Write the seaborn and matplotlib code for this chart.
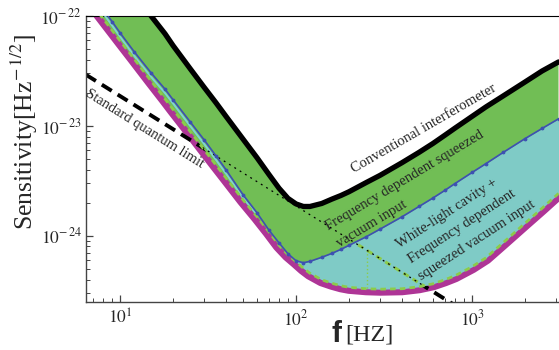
import numpy as np
import matplotlib
matplotlib.use("Agg")
import matplotlib.pyplot as plt
from matplotlib.ticker import FuncFormatter, NullFormatter, FixedLocator
import seaborn as sns

# Frequency grid [Hz] shared by the noise curves
freq = [6.4, 7, 8, 9, 10, 12, 15, 18, 20, 25, 30, 35, 40, 50, 60, 70, 80, 90,
        100, 110, 120, 140, 160, 180, 200, 250, 300, 400, 500, 600, 700, 800,
        1000, 1200, 1500, 2000, 2500, 3100]

# Conventional interferometer sensitivity [Hz^-1/2]
conventional = [6.28e-22, 5.19e-22, 3.89e-22, 3.02e-22, 2.40e-22, 1.62e-22, 1.0e-22,
                6.89e-23, 5.38e-23, 3.32e-23, 2.25e-23, 1.63e-23, 1.22e-23,
                7.57e-24, 5.13e-24, 3.63e-24, 2.71e-24, 2.19e-24, 1.95e-24,
                1.85e-24, 1.85e-24, 1.97e-24, 2.16e-24, 2.33e-24, 2.52e-24,
                3.05e-24, 3.55e-24, 4.63e-24, 5.75e-24, 6.93e-24, 8.22e-24, 9.55e-24,
                1.22e-23, 1.49e-23, 1.87e-23, 2.51e-23, 3.16e-23, 3.82e-23]

# Frequency dependent squeezed vacuum input
fd_squeezed = [1.85e-22, 1.53e-22, 1.15e-22, 8.91e-23, 7.02e-23, 4.75e-23, 3.04e-23,
               2.16e-23, 1.73e-23, 1.09e-23, 7.48e-24, 5.36e-24, 3.99e-24,
               2.36e-24, 1.62e-24, 1.13e-24, 8.63e-25, 6.86e-25, 5.93e-25,
               5.69e-25, 5.86e-25, 6.38e-25, 6.93e-25, 7.54e-25, 8.20e-25,
               9.79e-25, 1.15e-24, 1.49e-24, 1.85e-24, 2.21e-24, 2.59e-24, 2.99e-24,
               3.77e-24, 4.54e-24, 5.73e-24, 7.66e-24, 9.48e-24, 1.16e-23]

# White-light cavity + frequency dependent squeezed vacuum input
white_light = [1.44e-22, 1.25e-22, 9.47e-23, 7.41e-23, 5.95e-23, 4.08e-23, 2.56e-23,
               1.76e-23, 1.41e-23, 8.91e-24, 6.09e-24, 4.42e-24, 3.36e-24,
               2.12e-24, 1.49e-24, 1.09e-24, 8.20e-25, 6.71e-25, 5.81e-25,
               5.07e-25, 4.56e-25, 3.98e-25, 3.70e-25, 3.51e-25, 3.40e-25,
               3.30e-25, 3.27e-25, 3.30e-25, 3.44e-25, 3.66e-25, 3.98e-25, 4.33e-25,
               5.23e-25, 6.31e-25, 8.64e-25, 1.30e-24, 1.78e-24, 2.43e-24]

# Thin trace running between the two squeezed curves at low frequency
edge_freq = [6.4, 7, 8, 9, 10, 12, 15, 18, 20, 25, 30, 35, 40, 50, 60]
edge_vals = [1.70e-22, 1.41e-22, 1.06e-22, 8.2e-23, 6.46e-23, 4.36e-23, 2.79e-23,
             1.99e-23, 1.60e-23, 1.00e-23, 6.87e-24, 4.93e-24, 3.67e-24,
             2.21e-24, 1.55e-24]

# Standard quantum limit
sql_freq = [6.4, 800]
sql_vals = [2.92e-23, 2.33e-25]

# Marker segment from the SQL down to the white-light curve
seg_freq = [252, 252]
seg_vals = [7.4e-25, 3.3e-25]

# Axis decades
x_ticks = [10, 100, 1000]
y_ticks = [1e-24, 1e-23, 1e-22]

GREEN = "#71BE55"
CYAN = "#7FCBC6"
MAGENTA = "#AE3596"
BLUE = "#3D4FB3"
LIGHTGREEN = "#8CCB4A"
CYANLINE = "#7FD3D3"

sns.set_theme(style="ticks")
plt.rcParams["font.family"] = ["Liberation Serif", "DejaVu Serif"]
plt.rcParams["mathtext.fontset"] = "stix"

W, H = 559, 350
fig = plt.figure(figsize=(W / 100, H / 100), dpi=100)
ax = fig.add_axes([86 / W, 48 / H, 473 / W, 286 / H])
ax.set_xscale("log")
ax.set_yscale("log")

f = np.array(freq)

# thick magenta edge under the filled bands
sns.lineplot(x=freq, y=white_light, color=MAGENTA, lw=9.4, ax=ax,
             legend=False, zorder=1.5, sort=False)
# SQL drawn underneath the bands
sns.lineplot(x=sql_freq, y=sql_vals, color="black", lw=2.8,
             linestyle=(0, (3, 1.8)), ax=ax, legend=False, zorder=1.8)

green = ax.fill_between(f, white_light, conventional, color=GREEN, lw=0, zorder=2)
cyan = ax.fill_between(f, white_light, fd_squeezed, where=f >= 100,
                       color=CYAN, lw=0, zorder=3)

# SQL traced through the bands
seg = ax.plot(sql_freq, sql_vals, color=LIGHTGREEN, lw=2.2,
              linestyle=(0, (2, 1.5)), zorder=3.5)[0]
seg.set_clip_path(cyan.get_paths()[0], transform=ax.transData)
dot = ax.plot(sql_freq, sql_vals, color="black", lw=0.9,
              linestyle=(0, (1.5, 3.5)), zorder=4.5)[0]
dot.set_clip_path(green.get_paths()[0], transform=ax.transData)
ax.plot(seg_freq, seg_vals, color=LIGHTGREEN, lw=1.0, linestyle=":", zorder=3.6)

sns.lineplot(x=edge_freq, y=edge_vals, color=CYANLINE, lw=1.4, ax=ax,
             legend=False, zorder=4, sort=False)
sns.lineplot(x=freq, y=white_light, color=LIGHTGREEN, lw=2.0,
             linestyle=(0, (2, 1.5)), ax=ax, legend=False, zorder=4, sort=False)
sns.lineplot(x=freq, y=fd_squeezed, color=BLUE, lw=1.2, marker="o", ms=2.0,
             mec=BLUE, ax=ax, legend=False, zorder=5, sort=False)
sns.lineplot(x=freq, y=conventional, color="black", lw=3.8, ax=ax,
             legend=False, zorder=6, sort=False)

ax.set_xlim(6.4, 3120)
ax.set_ylim(2.5e-25, 1e-22)
ax.set_xlabel("")
ax.set_ylabel("")

ax.spines["right"].set_visible(False)
ax.spines["top"].set_linewidth(0.8)
ax.spines["top"].set_color("black")
for s in ("left", "bottom"):
    ax.spines[s].set_linewidth(1.0)
    ax.spines[s].set_color("#444444")

ax.xaxis.set_major_locator(FixedLocator(x_ticks))
ax.yaxis.set_major_locator(FixedLocator(y_ticks))
ax.tick_params(which="both", direction="in", top=False, right=False,
               color="#444444", labelsize=12.5)
ax.tick_params(which="major", length=5, width=0.9)
ax.tick_params(which="minor", length=3, width=0.7)
ax.tick_params(axis="x", pad=5)
ax.tick_params(axis="y", pad=3)
ax.xaxis.set_major_formatter(FuncFormatter(
    lambda v, p: rf"$10^{{{int(round(np.log10(v)))}}}$"))
ax.yaxis.set_major_formatter(FuncFormatter(
    lambda v, p: rf"$10^{{-\,{-int(round(np.log10(v)))}}}$"))
ax.xaxis.set_minor_formatter(NullFormatter())
ax.yaxis.set_minor_formatter(NullFormatter())


def ptext(x, y, s, rot, **kw):
    fig.text(x / W, 1 - y / H, s, rotation=rot, rotation_mode="anchor",
             ha="center", va="center", fontsize=10.5, **kw)


ptext(145, 129, "Standard quantum limit", -32)
ptext(424, 129, "Conventional interferometer", 30)
ptext(405, 181, "Frequency dependent squeezed", 31)
ptext(372, 224, "vacuum input", 31)
ptext(447, 213, "White-light cavity +", 33)
ptext(462, 227, "Frequency dependent", 33)
ptext(477, 240, "squeezed vacuum input", 33)

fig.text(24 / W, 1 - 132 / H, "Sensitivity[Hz$^{-\\,1/2}$]", rotation=90,
         ha="center", va="center", fontsize=18.5)
fig.text(336 / W, 1 - 342 / H, "f", family=["Liberation Sans"],
         fontweight="bold", fontsize=21.5, ha="center", va="baseline")
fig.text(345 / W, 1 - 341 / H, "[HZ]", fontsize=17.5, ha="left", va="baseline")

fig.savefig("out.png", dpi=100)
